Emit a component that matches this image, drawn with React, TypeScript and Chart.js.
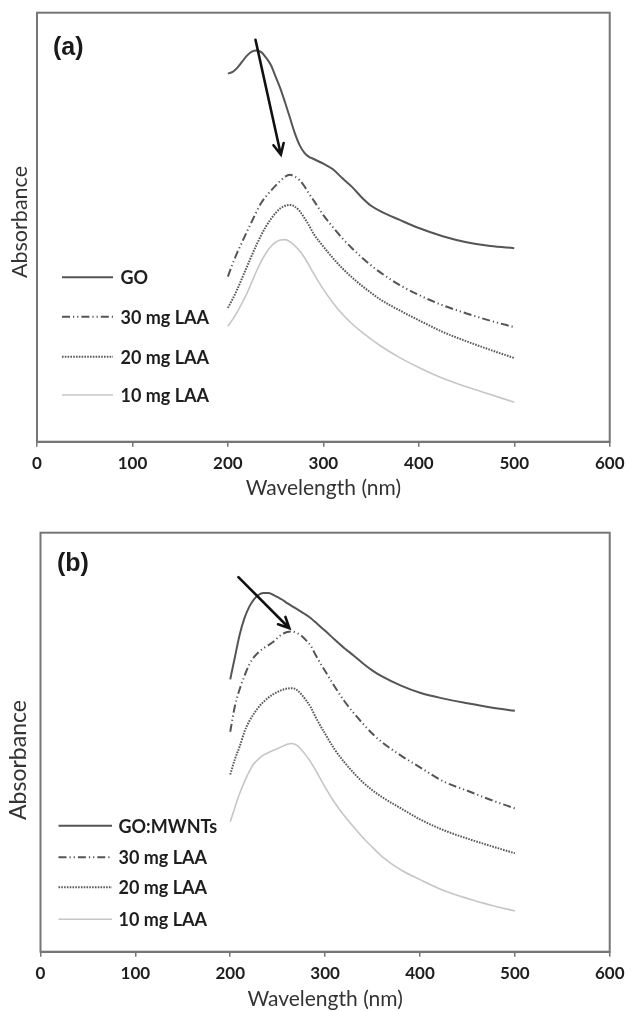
import { useEffect, useRef } from "react";
import { Chart, registerables } from "chart.js";

Chart.register(...registerables);

// ---------- data ----------
const wavelengths = [
  200, 205, 210, 215, 220, 225, 230, 235, 240, 245, 250, 255, 260, 265, 270, 275,
  280, 285, 290, 300, 310, 320, 330, 340, 350, 360, 380, 400, 425, 450, 475, 500,
];
const xTickValues = [0, 100, 200, 300, 400, 500, 600];

// panel (a)
const seriesLabelsA = ["GO", "30 mg LAA", "20 mg LAA", "10 mg LAA"];
const goA = [
  85.8, 86.2, 87.2, 88.6, 90.0, 90.9, 91.2, 90.8, 89.5, 87.8, 85.1, 82.3, 79.0, 75.5, 72.0, 69.2,
  67.4, 66.4, 65.9, 64.8, 63.5, 61.4, 59.4, 57.0, 55.0, 53.7, 51.7, 49.8, 47.9, 46.5, 45.6, 45.1,
];
const laa30A = [
  38.5, 41.5, 44.2, 46.6, 49.0, 51.3, 53.6, 55.7, 57.2, 58.5, 59.7, 60.8, 61.8, 62.2, 61.8, 61.0,
  59.6, 57.8, 56.2, 52.8, 50.0, 47.4, 45.1, 43.0, 41.1, 39.4, 36.5, 34.2, 31.8, 29.9, 28.2, 26.7,
];
const laa20A = [
  31.2, 33.3, 35.6, 38.2, 40.8, 43.4, 45.9, 48.2, 50.2, 51.9, 53.3, 54.4, 55.0, 55.2, 54.8, 53.8,
  52.2, 50.4, 48.4, 45.5, 42.8, 40.4, 38.3, 36.4, 34.7, 33.1, 30.6, 28.3, 25.6, 23.4, 21.4, 19.5,
];
const laa10A = [
  26.9, 28.5, 30.3, 32.4, 34.6, 37.2, 39.8, 42.1, 44.0, 45.5, 46.5, 47.0, 47.1, 46.6, 45.7, 44.5,
  43.0, 41.1, 39.1, 35.5, 32.4, 29.7, 27.5, 25.6, 23.9, 22.3, 19.6, 17.3, 14.8, 12.8, 11.0, 9.2,
];

// panel (b)
const seriesLabelsB = ["GO:MWNTs", "30 mg LAA", "20 mg LAA", "10 mg LAA"];
const goB = [
  65.0, 70.4, 75.7, 79.6, 82.3, 84.1, 85.2, 85.6, 85.6, 85.2, 84.6, 84.0, 83.2, 82.5, 81.8, 81.1,
  80.4, 79.6, 78.6, 76.6, 74.5, 72.5, 70.7, 68.8, 67.1, 65.7, 63.5, 61.8, 60.4, 59.3, 58.3, 57.5,
];
const laa30B = [
  52.5, 58.7, 62.7, 65.8, 68.5, 70.3, 71.5, 72.4, 73.1, 73.9, 74.9, 75.8, 76.3, 76.4, 76.1, 75.4,
  74.3, 73.0, 70.8, 67.0, 63.3, 59.9, 57.0, 54.4, 52.0, 50.0, 46.8, 44.0, 40.6, 38.4, 36.2, 34.2,
];
const laa20B = [
  42.3, 46.0, 49.0, 52.5, 55.0, 56.8, 58.4, 59.6, 60.6, 61.4, 62.0, 62.5, 62.8, 62.9, 62.5, 61.4,
  60.0, 58.3, 56.0, 52.0, 48.3, 45.3, 42.7, 40.4, 38.5, 36.9, 34.2, 31.6, 29.0, 27.0, 25.2, 23.5,
];
const laa10B = [
  31.0, 34.5, 37.8, 40.6, 43.0, 44.9, 46.0, 46.9, 47.5, 48.0, 48.5, 49.0, 49.5, 49.7, 49.3, 48.2,
  46.8, 45.2, 43.3, 39.3, 35.6, 32.5, 29.8, 27.2, 24.9, 22.7, 19.5, 17.2, 14.6, 12.7, 11.1, 9.7,
];

// arrows (data coordinates: [wavelength, absorbance])
const arrowA = [[228.9, 93.7], [255.5, 66.9]];
const arrowB = [[208.6, 89.4], [262.3, 77.2]];

// ---------- styles ----------
const lineStyles = [
  { color: "#555555", width: 2, dash: [] as number[] },
  { color: "#555555", width: 2, dash: [8, 3, 1.2, 3, 1.2, 3] },
  { color: "#5a5a5a", width: 2, dash: [1.6, 1.2] },
  { color: "#c6c6c6", width: 1.6, dash: [] as number[] },
];

const FONT = "Lato, 'Open Sans', sans-serif";

function buildDatasets(labels: string[], series: number[][]) {
  return series.map((vals, i) => ({
    label: labels[i],
    data: wavelengths.map((w, j) => ({ x: w, y: vals[j] })),
    borderColor: lineStyles[i].color,
    borderWidth: lineStyles[i].width,
    borderDash: lineStyles[i].dash,
    pointRadius: 0,
    fill: false,
    cubicInterpolationMode: "monotone" as const,
  }));
}

const decorPlugin = {
  id: "decor",
  afterDraw(chart: any, _args: any, opts: any) {
    const { ctx, chartArea: ca, scales } = chart;
    const x = scales.x;
    const y = scales.y;
    ctx.save();
    // frame
    ctx.strokeStyle = "#767676";
    ctx.lineWidth = 2;
    ctx.setLineDash([]);
    ctx.strokeRect(ca.left, ca.top, ca.right - ca.left, ca.bottom - ca.top);

    // y axis title
    ctx.save();
    ctx.translate(opts.yTitleX, opts.yTitleY);
    ctx.rotate(-Math.PI / 2);
    ctx.fillStyle = "#333";
    ctx.font = `${opts.yTitleSize}px ${FONT}`;
    ctx.textAlign = "center";
    ctx.textBaseline = "middle";
    ctx.fillText(opts.yTitle, 0, 0);
    ctx.restore();

    // panel label
    ctx.fillStyle = "#1a1a1a";
    ctx.font = "bold 25px 'Liberation Sans', Arial, sans-serif";
    ctx.textBaseline = "middle";
    ctx.textAlign = "left";
    ctx.fillText(opts.panel, opts.panelX, opts.panelY);

    // arrow
    const a = opts.arrow;
    const x1 = x.getPixelForValue(a[0][0]);
    const y1 = y.getPixelForValue(a[0][1]);
    const x2 = x.getPixelForValue(a[1][0]);
    const y2 = y.getPixelForValue(a[1][1]);
    ctx.strokeStyle = "#111";
    ctx.lineWidth = 2.6;
    ctx.lineCap = "round";
    ctx.beginPath();
    ctx.moveTo(x1, y1);
    ctx.lineTo(x2, y2);
    const ang = Math.atan2(y2 - y1, x2 - x1);
    const hl = 12;
    const spread = 0.45;
    ctx.moveTo(x2 - hl * Math.cos(ang - spread), y2 - hl * Math.sin(ang - spread));
    ctx.lineTo(x2, y2);
    ctx.lineTo(x2 - hl * Math.cos(ang + spread), y2 - hl * Math.sin(ang + spread));
    ctx.stroke();

    // legend
    const lg = opts.legend;
    chart.data.datasets.forEach((ds: any, i: number) => {
      const yy = lg.rows[i];
      ctx.strokeStyle = ds.borderColor;
      ctx.lineWidth = ds.borderWidth;
      ctx.lineCap = "butt";
      ctx.setLineDash(ds.borderDash || []);
      ctx.beginPath();
      ctx.moveTo(lg.x1, yy);
      ctx.lineTo(lg.x2, yy);
      ctx.stroke();
      ctx.setLineDash([]);
      ctx.fillStyle = "#1e1e1e";
      ctx.font = `bold 18px ${FONT}`;
      ctx.textBaseline = "middle";
      ctx.fillText(ds.label, lg.tx, yy + 1);
    });
    ctx.restore();
  },
};

type PanelProps = {
  height: number;
  labels: string[];
  series: number[][];
  padTop: number;
  padRight: number;
  yWidth: number;
  xHeight: number;
  panel: string;
  panelX: number;
  panelY: number;
  yTitleX: number;
  yTitleY: number;
  yTitleSize: number;
  arrow: number[][];
  legend: { x1: number; x2: number; tx: number; rows: number[] };
};

function Panel(p: PanelProps) {
  const ref = useRef<HTMLCanvasElement | null>(null);
  useEffect(() => {
    if (!ref.current) return;
    const chart = new Chart(ref.current, {
      type: "line",
      data: { datasets: buildDatasets(p.labels, p.series) as any },
      options: {
        animation: false,
        responsive: false,
        maintainAspectRatio: false,
        devicePixelRatio: 1,
        layout: { padding: { top: p.padTop, right: p.padRight, left: 0, bottom: 0 } },
        plugins: {
          legend: { display: false },
          tooltip: { enabled: false },
          decor: {
            panel: p.panel,
            panelX: p.panelX,
            panelY: p.panelY,
            yTitle: "Absorbance",
            yTitleX: p.yTitleX,
            yTitleY: p.yTitleY,
            yTitleSize: p.yTitleSize,
            arrow: p.arrow,
            legend: p.legend,
          },
        } as any,
        scales: {
          x: {
            type: "linear",
            min: 0,
            max: 600,
            afterBuildTicks: (s: any) => {
              s.ticks = xTickValues.map((v) => ({ value: v }));
            },
            afterFit: (s: any) => {
              s.height = p.xHeight;
            },
            grid: {
              display: true,
              drawOnChartArea: false,
              drawTicks: true,
              tickLength: 5,
              color: "#767676",
              lineWidth: 1.5,
            },
            border: { display: true, color: "#767676", width: 2 },
            ticks: {
              color: "#1e1e1e",
              padding: 8.5,
              maxRotation: 0,
              font: { family: FONT, size: 17, weight: "bold", lineHeight: 1 },
            },
            title: {
              display: true,
              text: "Wavelength (nm)",
              color: "#333",
              padding: { top: 0, bottom: 0 },
              font: { family: FONT, size: 21, lineHeight: 1.1 },
            },
          },
          y: {
            type: "linear",
            min: 0,
            max: 100,
            afterFit: (s: any) => {
              s.width = p.yWidth;
            },
            grid: { display: false },
            border: { display: false },
            ticks: { display: false },
            title: { display: false },
          },
        },
      },
      plugins: [decorPlugin as any],
    });
    return () => chart.destroy();
  }, []);
  return <canvas ref={ref} width={633} height={p.height} style={{ display: "block" }} />;
}

export default function App() {
  return (
    <div
      style={{
        position: "absolute",
        left: 0,
        top: 0,
        width: 633,
        height: 1011,
        background: "#fff",
        overflow: "hidden",
      }}
    >
      <Panel
        height={500}
        labels={seriesLabelsA}
        series={[goA, laa30A, laa20A, laa10A]}
        padTop={12.7}
        padRight={20}
        yWidth={37}
        xHeight={58.3}
        panel="(a)"
        panelX={53}
        panelY={48}
        yTitleX={20}
        yTitleY={222}
        yTitleSize={21.5}
        arrow={arrowA}
        legend={{ x1: 62, x2: 113, tx: 120.5, rows: [277.3, 316.7, 356.7, 395] }}
      />
      <Panel
        height={511}
        labels={seriesLabelsB}
        series={[goB, laa30B, laa20B, laa10B]}
        padTop={32.7}
        padRight={21}
        yWidth={40.5}
        xHeight={59.3}
        panel="(b)"
        panelX={57}
        panelY={64}
        yTitleX={19}
        yTitleY={260}
        yTitleSize={23}
        arrow={arrowB}
        legend={{ x1: 58.5, x2: 112, tx: 118.5, rows: [325.7, 357.3, 387.3, 419.3] }}
      />
    </div>
  );
}
